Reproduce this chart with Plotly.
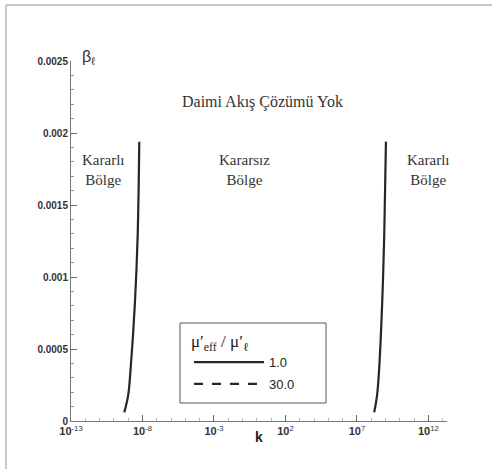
import plotly.graph_objects as go

# --- data ---
beta_vals = [0.00006, 0.00018, 0.00037, 0.00083, 0.00129, 0.00194]
k_left = [5.33e-10, 1.0e-9, 1.50e-9, 2.99e-9, 4.61e-9, 5.97e-9]
k_right = [1.62e8, 2.57e8, 3.63e8, 5.89e8, 8.13e8, 1.07e9]
series_names = ["1.0", "30.0"]
x_tickvals = [1e-13, 1e-8, 1e-3, 1e2, 1e7, 1e12]
x_ticktext = ["<b>10</b><sup>-13</sup>", "<b>10</b><sup>-8</sup>", "<b>10</b><sup>-3</sup>",
              "<b>10</b><sup>2</sup>", "<b>10</b><sup>7</sup>", "<b>10</b><sup>12</sup>"]
y_tickvals = [0, 0.0005, 0.001, 0.0015, 0.002, 0.0025]
y_ticktext = ["<b>0</b>", "<b>0.0005</b>", "<b>0.001</b>", "<b>0.0015</b>", "<b>0.002</b>", "<b>0.0025</b>"]

ink = "#262626"
serif = "Times New Roman, Liberation Serif, DejaVu Serif, serif"
sans = "Arial, Liberation Sans, sans-serif"

fig = go.Figure()
fig.add_trace(go.Scatter(x=k_left, y=beta_vals, mode="lines", name=series_names[0],
                         legendgroup="a", line=dict(color=ink, width=2.2, shape="spline")))
fig.add_trace(go.Scatter(x=k_right, y=beta_vals, mode="lines", name=series_names[0],
                         legendgroup="a", showlegend=False,
                         line=dict(color=ink, width=2.2, shape="spline")))
fig.add_trace(go.Scatter(x=[None], y=[None], mode="lines", name=series_names[1],
                         line=dict(color=ink, width=2.2, dash="dash")))

L, R, T, B = 71, 447, 61, 421
W, H = R - L, B - T


def px(xp):
    return (xp - L) / W


def py(yp):
    return (B - yp) / H


annos = [
    dict(x=0.36, y=0.002215, xref="x", yref="y", text="Daimi Akış Çözümü Yok",
         font=dict(family=serif, size=16, color="#333")),
    dict(x=-10.76, y=0.00174, xref="x", yref="y", text="Kararlı<br>Bölge",
         font=dict(family=serif, size=15, color="#333")),
    dict(x=-0.83, y=0.00174, xref="x", yref="y", text="Kararsız<br>Bölge",
         font=dict(family=serif, size=15, color="#333")),
    dict(x=11.97, y=0.00174, xref="x", yref="y", text="Kararlı<br>Bölge",
         font=dict(family=serif, size=15, color="#333")),
    dict(x=px(80), y=py(46), xref="paper", yref="paper", text="β<sub>ℓ</sub>",
         font=dict(family=sans, size=16, color="#333")),
    dict(x=px(259), y=py(447), xref="paper", yref="paper", text="<b>k</b>",
         font=dict(family=sans, size=14, color="#222")),
]
for a in annos:
    a.update(showarrow=False)

shapes = [
    dict(type="line", xref="paper", yref="paper", x0=px(6), x1=px(6), y0=py(5), y1=py(469),
         line=dict(color="#c8c8c8", width=2)),
    dict(type="line", xref="paper", yref="paper", x0=px(6), x1=px(492), y0=py(5), y1=py(5),
         line=dict(color="#c8c8c8", width=2)),
    # legend frame
    dict(type="rect", xref="paper", yref="paper", x0=px(180), x1=px(326), y0=py(403), y1=py(323),
         line=dict(color="#555", width=1), fillcolor="white", layer="above"),
]

fig.update_layout(
    width=495, height=469,
    margin=dict(l=L, r=495 - R, t=T, b=469 - B),
    paper_bgcolor="white", plot_bgcolor="white",
    showlegend=True,
    legend=dict(
        x=px(189), y=py(325), xanchor="left", yanchor="top",
        borderwidth=0, bgcolor="rgba(0,0,0,0)",
        title=dict(text="μ′<sub>eff</sub> / μ′<sub>ℓ</sub>", side="top",
                   font=dict(family=serif, size=17, color="#222")),
        font=dict(family=sans, size=13, color="#222"),
        itemwidth=70, tracegroupgap=2,
    ),
    annotations=annos,
    shapes=shapes,
)

fig.update_xaxes(
    type="log", range=[-13, 13.3],
    tickvals=x_tickvals, ticktext=x_ticktext,
    ticks="inside", ticklen=6, tickcolor="#666",
    showline=True, linecolor="#777", linewidth=1,
    showgrid=False, zeroline=False,
    tickfont=dict(family=sans, size=11, color="#333"),
    minor=dict(tickvals=[10.0 ** e for e in range(-13, 14)], ticks="inside",
               ticklen=3, tickcolor="#bbb"),
)
fig.update_yaxes(
    range=[0, 0.0025],
    tickvals=y_tickvals, ticktext=y_ticktext,
    ticks="inside", ticklen=6, tickcolor="#666",
    showline=True, linecolor="#777", linewidth=1,
    showgrid=False, zeroline=False,
    tickfont=dict(family=sans, size=10, color="#333"),
    minor=dict(dtick=0.0001, ticks="inside", ticklen=3, tickcolor="#999"),
)

fig.write_html("out.html")
